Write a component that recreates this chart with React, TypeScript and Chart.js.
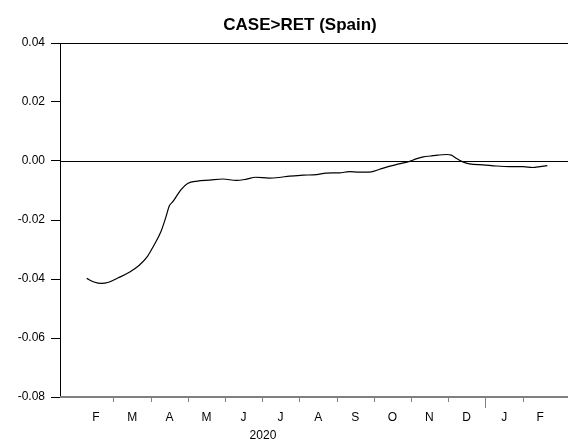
import React, { useEffect, useRef } from "react";
import { Chart, registerables } from "chart.js";

Chart.register(...registerables);

const TITLE = "CASE>RET (Spain)";
const YEAR_LABEL = "2020";
const YEAR_SPAN = ["2020-01-01", "2021-01-01"];
const X_RANGE = ["2020-01-17", "2021-03-10"];
const MONTH_LABELS = ["F", "M", "A", "M", "J", "J", "A", "S", "O", "N", "D", "J", "F"];
const MONTH_STARTS = [
  "2020-02-01", "2020-03-01", "2020-04-01", "2020-05-01", "2020-06-01", "2020-07-01",
  "2020-08-01", "2020-09-01", "2020-10-01", "2020-11-01", "2020-12-01", "2021-01-01",
  "2021-02-01", "2021-03-01",
];
const Y_TICKS = [-0.08, -0.06, -0.04, -0.02, 0.0, 0.02, 0.04];

const DATES = [
  "2020-02-08", "2020-02-14", "2020-02-20", "2020-02-26", "2020-03-05", "2020-03-14",
  "2020-03-22", "2020-03-29", "2020-04-03", "2020-04-09", "2020-04-13", "2020-04-16",
  "2020-04-19", "2020-04-23", "2020-04-26", "2020-05-01", "2020-05-09", "2020-05-19",
  "2020-05-30", "2020-06-10", "2020-06-18", "2020-06-26", "2020-07-07", "2020-07-15",
  "2020-07-24", "2020-08-04", "2020-08-15", "2020-08-23", "2020-09-03", "2020-09-11",
  "2020-09-19", "2020-09-29", "2020-10-06", "2020-10-13", "2020-10-22", "2020-10-30",
  "2020-11-05", "2020-11-11", "2020-11-17", "2020-11-23", "2020-11-30", "2020-12-04",
  "2020-12-08", "2020-12-13", "2020-12-19", "2020-12-30", "2021-01-10", "2021-01-21",
  "2021-02-01", "2021-02-09", "2021-02-15", "2021-02-21",
];
const VALUES = [
  -0.0398, -0.041, -0.0415, -0.0411, -0.0396, -0.0377,
  -0.0354, -0.0323, -0.0288, -0.024, -0.0192, -0.0152,
  -0.0137, -0.0112, -0.0095, -0.0076, -0.0068, -0.0065,
  -0.0061, -0.0066, -0.0062, -0.0055, -0.0058, -0.0056,
  -0.0051, -0.0048, -0.0046, -0.0041, -0.004, -0.0036,
  -0.0038, -0.0037, -0.0028, -0.0019, -0.001, -0.0002,
  0.0007, 0.0014, 0.0017, 0.002, 0.0022, 0.002,
  0.0009, -0.0002, -0.001, -0.0013, -0.0017, -0.0019,
  -0.0019, -0.0022, -0.0019, -0.0016,
];

const ORIGIN = Date.parse("2020-02-01");
const toDay = (s: string) => (Date.parse(s) - ORIGIN) / 86400000;

const FONT = '"Liberation Sans", Arial, sans-serif';

const framePlugin = {
  id: "eviewsFrame",
  afterDraw(chart: any) {
    const { ctx, chartArea, scales } = chart;
    const x = scales.x;
    const y = scales.y;
    ctx.save();
    // title
    ctx.fillStyle = "#000";
    ctx.font = `bold 17px ${FONT}`;
    ctx.textAlign = "center";
    ctx.textBaseline = "middle";
    ctx.fillText(TITLE, 300, 25);
    // top frame
    ctx.strokeStyle = "#000";
    ctx.lineWidth = 1;
    const top = Math.round(chartArea.top) + 0.5;
    ctx.beginPath();
    ctx.moveTo(chartArea.left, top);
    ctx.lineTo(chartArea.right, top);
    ctx.stroke();
    // zero line
    const zy = Math.round(y.getPixelForValue(0)) + 0.5;
    ctx.beginPath();
    ctx.moveTo(chartArea.left, zy);
    ctx.lineTo(chartArea.right, zy);
    ctx.stroke();
    // bottom axis
    const by = chartArea.bottom;
    ctx.strokeStyle = "#808080";
    ctx.lineWidth = 2;
    ctx.beginPath();
    ctx.moveTo(chartArea.left, by);
    ctx.lineTo(chartArea.right, by);
    ctx.stroke();
    // month ticks (from March 2020 to February 2021)
    ctx.lineWidth = 1;
    for (let i = 1; i < MONTH_STARTS.length - 1; i++) {
      const px = Math.round(x.getPixelForValue(toDay(MONTH_STARTS[i]))) + 0.5;
      const isYear = MONTH_STARTS[i].endsWith("-01-01");
      ctx.beginPath();
      ctx.moveTo(px, by);
      ctx.lineTo(px, by + (isYear ? 11 : 5));
      ctx.stroke();
    }
    // month labels
    ctx.fillStyle = "#000";
    ctx.font = `12px ${FONT}`;
    ctx.textBaseline = "middle";
    for (let i = 0; i < MONTH_LABELS.length; i++) {
      const mid = (toDay(MONTH_STARTS[i]) + toDay(MONTH_STARTS[i + 1])) / 2;
      ctx.fillText(MONTH_LABELS[i], x.getPixelForValue(mid), by + 21);
    }
    // year label
    const yMid = (toDay(YEAR_SPAN[0]) + toDay(YEAR_SPAN[1])) / 2;
    ctx.fillText(YEAR_LABEL, x.getPixelForValue(yMid), by + 39);
    ctx.restore();
  },
};

export default function App() {
  const ref = useRef<HTMLCanvasElement | null>(null);
  useEffect(() => {
    if (!ref.current) return;
    const chart = new Chart(ref.current, {
      type: "line",
      data: {
        datasets: [
          {
            data: DATES.map((d, i) => ({ x: toDay(d), y: VALUES[i] })),
            borderColor: "#000",
            borderWidth: 1.2,
            pointRadius: 0,
            fill: false,
            cubicInterpolationMode: "monotone",
          },
        ],
      },
      options: {
        responsive: false,
        animation: false,
        layout: { padding: { top: 43, left: 0, right: 0, bottom: 0 } },
        plugins: { legend: { display: false }, title: { display: false }, tooltip: { enabled: false } },
        scales: {
          x: {
            type: "linear",
            min: toDay(X_RANGE[0]),
            max: toDay(X_RANGE[1]),
            grid: { display: false },
            border: { display: false },
            ticks: { display: false },
            afterFit: (s: any) => {
              s.height = 46;
            },
          },
          y: {
            min: -0.08,
            max: 0.04,
            afterBuildTicks: (s: any) => {
              s.ticks = Y_TICKS.map((v) => ({ value: v }));
            },
            grid: { display: true, drawOnChartArea: false, drawTicks: true, tickLength: 9, color: "#000" },
            border: { display: true, color: "#000", width: 1 },
            ticks: {
              color: "#000",
              padding: 6,
              font: { family: FONT, size: 12 },
              callback: (v: any) => Number(v).toFixed(2),
            },
            afterFit: (s: any) => {
              s.width = 60;
            },
          },
        },
      },
      plugins: [framePlugin],
    } as any);
    return () => chart.destroy();
  }, []);
  return (
    <div style={{ position: "fixed", left: 0, top: 0, width: 568, height: 443, background: "#fff" }}>
      <canvas ref={ref} width={568} height={443} style={{ width: 568, height: 443 }} />
    </div>
  );
}
